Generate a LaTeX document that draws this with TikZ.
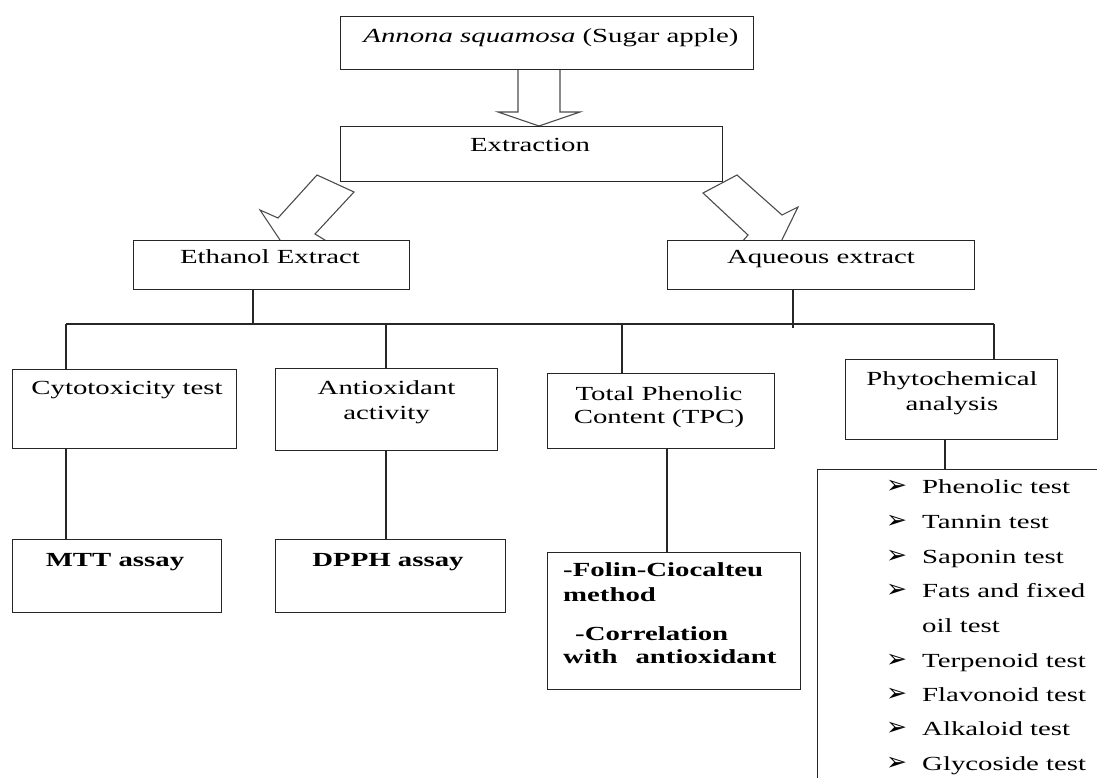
\documentclass[tikz,border=0pt]{standalone}
\usepackage{fontspec}
\setmainfont{Liberation Serif}[FakeStretch=1.44]
\newfontfamily\dv{DejaVu Sans}
\begin{document}
\begin{tikzpicture}[x=1pt,y=-1pt,
  box/.style={draw=black!85, line width=1.3pt, fill=white, inner sep=0pt, anchor=north west},
  lbl/.style={font=\fontsize{20}{25}\selectfont, inner sep=0pt, anchor=base, text=black},
  blbl/.style={font=\fontsize{20}{25}\selectfont\bfseries, inner sep=0pt, anchor=base west, text=black},
  bb/.style={font=\fontsize{20}{25}\selectfont\bfseries, inner sep=0pt, anchor=base, text=black},
  item/.style={font=\fontsize{20}{25}\selectfont, inner sep=0pt, anchor=base west, text=black},
  bul/.style={font=\dv\fontsize{25}{25}\selectfont, inner sep=0pt, anchor=base west, text=black},
  conn/.style={draw=black!85, line width=1.3pt},
  barrow/.style={draw=black!70, line width=1.1pt, fill=white, line join=miter},
]
\useasboundingbox (0,0) rectangle (1097,778);
\clip (0,0) rectangle (1097,778);
\fill[white] (0,0) rectangle (1097,778);

% block arrows (drawn first, boxes cover their ends)
\draw[barrow] (518,66) -- (518,112) -- (498,112) -- (539,126) -- (580,112) -- (560,112) -- (560,66);
\draw[barrow] (317,175) -- (278,218) -- (260,210) -- (288,252) -- (333,245) -- (315,234) -- (354,192) -- cycle;
\draw[barrow] (737,175) -- (782,215) -- (798,207) -- (776,252) -- (735,250) -- (748,235) -- (703,193) -- cycle;

% bus and connector coordinates
\coordinate (busL) at (66,324);
\coordinate (busR) at (994,324);
\coordinate (e1) at (253,324);
\coordinate (a1) at (793,328);
\coordinate (b2) at (386,324);
\coordinate (b3) at (622,324);
\coordinate (b4) at (667,0);
\coordinate (b5) at (945,0);

% boxes
\node[box, minimum width=413pt, minimum height=53pt] (src) at (340,16) {};
\node[box, minimum width=382pt, minimum height=55pt] (ext) at (340,126) {};
\node[box, minimum width=276pt, minimum height=49pt] (eth) at (133,240) {};
\node[box, minimum width=307pt, minimum height=49pt] (aq) at (667,240) {};
\node[box, minimum width=224pt, minimum height=79pt] (cyto) at (12,369) {};
\node[box, minimum width=222pt, minimum height=82pt] (anti) at (275,368) {};
\node[box, minimum width=227pt, minimum height=75pt] (tpc) at (547,373) {};
\node[box, minimum width=212pt, minimum height=80pt] (phy) at (845,359) {};
\node[box, minimum width=209pt, minimum height=73pt] (mtt) at (12,539) {};
\node[box, minimum width=230pt, minimum height=73pt] (dpph) at (275,539) {};
\node[box, minimum width=253pt, minimum height=137pt] (folin) at (547,552) {};
\node[box, minimum width=320pt, minimum height=340pt] (list) at (817,469) {};

% connectors
\draw[conn] (busL) -- (busR);
\draw[conn] (e1 |- eth.south) -- (e1);
\draw[conn] (a1 |- aq.south) -- (a1);
\draw[conn] (busL) -- (busL |- cyto.north);
\draw[conn] (b2) -- (b2 |- anti.north);
\draw[conn] (b3) -- (b3 |- tpc.north);
\draw[conn] (busR) -- (busR |- phy.north);
\draw[conn] (busL |- cyto.south) -- (busL |- mtt.north);
\draw[conn] (b2 |- anti.south) -- (b2 |- dpph.north);
\draw[conn] (b4 |- tpc.south) -- (b4 |- folin.north);
\draw[conn] (b5 |- phy.south) -- (b5 |- list.north);

% texts
\node[lbl] (tsrc) at (551,43) {\itshape Annona squamosa\upshape\ (Sugar apple)};
\node[lbl] (text) at (530,152) {Extraction};
\node[lbl] (teth) at (270,263) {Ethanol Extract};
\node[lbl] (taq) at (821,263) {Aqueous extract};
\node[lbl] (tcyto) at (127,394) {Cytotoxicity test};
\node[lbl] (tanti1) at (386.5,394) {Antioxidant};
\node[lbl] (tanti2) at (386.5,419) {activity};
\node[lbl] (ttpc1) at (659,400) {Total Phenolic};
\node[lbl] (ttpc2) at (659,423) {Content (TPC)};
\node[lbl] (tphy1) at (952,385) {Phytochemical};
\node[lbl] (tphy2) at (952,410) {analysis};
\node[bb] (tmtt) at (115,566) {MTT assay};
\node[bb] (tdpph) at (388,566) {DPPH assay};
\node[blbl] (tf1) at (563,576) {-Folin-Ciocalteu};
\node[blbl] (tf2) at (563,601) {method};
\node[blbl] (tf3) at (575,640) {-Correlation};
\node[blbl] (tf4) at (563,663) {with\hspace{18pt}antioxidant};

\foreach \yy/\tt [count=\i] in {493/Phenolic test, 528/Tannin test, 563/Saponin test, 597/Fats and fixed, 667/Terpenoid test, 701/Flavonoid test, 735/Alkaloid test, 770/Glycoside test}{
  \node[bul] (bl\i) at (886,\yy) {➢};
  \node[item] (it\i) at (922,\yy) {\tt};
}
\node[item] (itoil) at (922,632) {oil test};
\end{tikzpicture}
\end{document}
